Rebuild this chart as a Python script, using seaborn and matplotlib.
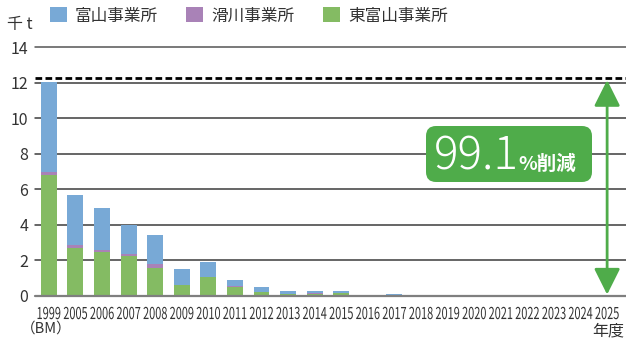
import matplotlib
matplotlib.use("Agg")
import matplotlib.pyplot as plt
import numpy as np
import pandas as pd
import seaborn as sns
from matplotlib.patches import Patch, FancyBboxPatch
from matplotlib.patheffects import AbstractPathEffect
from matplotlib.transforms import Affine2D, IdentityTransform

# PCB waste stock by site (thousand tonnes)
years = ["1999", "2005", "2006", "2007", "2008", "2009", "2010", "2011",
         "2012", "2013", "2014", "2015", "2016", "2017", "2018", "2019",
         "2020", "2021", "2022", "2023", "2024", "2025"]
toyama = [5.05, 2.81, 2.36, 1.61, 1.63, 0.90, 0.88, 0.34, 0.27, 0.15, 0.13,
          0.13, 0.08, 0.14, 0.08, 0.08, 0.08, 0.08, 0.08, 0.08, 0.08, 0.08]
namerikawa = [0.20, 0.15, 0.11, 0.11, 0.23, 0.00, 0.00, 0.07, 0.05, 0.00,
              0.03, 0.00, 0.00, 0.00, 0.00, 0.00, 0.00, 0.00, 0.00, 0.00,
              0.00, 0.00]
higashi_toyama = [6.80, 2.72, 2.49, 2.27, 1.59, 0.62, 1.05, 0.49, 0.20, 0.13,
                  0.12, 0.15, 0.00, 0.00, 0.00, 0.00, 0.00, 0.00, 0.00, 0.00,
                  0.00, 0.00]
series_labels = ["富山事業所", "滑川事業所", "東富山事業所"]
series_colors = ["#78a9d6", "#a982b7", "#84bb63"]
y_ticks = [0, 2, 4, 6, 8, 10, 12, 14]
baseline_level = 12.25
reduction_value = "99.1"
reduction_unit = "%削減"
box_green = "#4fac4a"

sns.set_theme(style="white")
plt.rcParams["font.family"] = ["Noto Sans CJK JP", "DejaVu Sans"]


class GlyphStretch(AbstractPathEffect):
    """Stretch glyph outlines about the text baseline (condensed look)."""

    def __init__(self, sx=1.0, sy=1.0):
        super().__init__()
        self._sx, self._sy = sx, sy

    def draw_path(self, renderer, gc, tpath, affine, rgbFace=None):
        renderer.draw_path(gc, tpath,
                           Affine2D().scale(self._sx, self._sy) + affine,
                           rgbFace)


df = pd.DataFrame({
    "year": years,
    "toyama": toyama,
    "namerikawa": namerikawa,
    "higashi": higashi_toyama,
})
df["lower"] = df["higashi"] + df["namerikawa"]
df["total"] = df["lower"] + df["toyama"]

W, H = 626, 341
fig = plt.figure(figsize=(W / 100, H / 100), dpi=100)
ax = fig.add_axes([35 / W, 1 - 296 / H, 1 - 35 / W, (296 - 47) / H])

# stacked bars: draw cumulative totals back to front
for col, color in zip(["total", "lower", "higashi"], series_colors):
    sns.barplot(data=df, x="year", y=col, color=color, saturation=1,
                width=0.6, linewidth=0, ax=ax, zorder=2, errorbar=None)

ax.set_xlim(-0.52, len(years) - 1 + 0.71)
ax.set_ylim(0, 14)
for s in ax.spines.values():
    s.set_visible(False)
ax.set_xlabel("")
ax.set_ylabel("")

# horizontal grid lines
for v in y_ticks[1:]:
    ax.axhline(v, color="#3c3c3c" if v < 14 else "#555555", lw=1.1,
               zorder=0, clip_on=False)
ax.axhline(0, color="#7f7f7f", lw=1.6, zorder=3, clip_on=False)

# 1999 reference level
ax.axhline(baseline_level, color="black", lw=2, ls=(0, (2.4, 1.2)),
           zorder=4, clip_on=False)

ax.set_yticks(y_ticks)
ax.set_yticklabels([str(v) for v in y_ticks], fontsize=11.5, color="#333333")
ax.tick_params(axis="y", length=0, pad=5)
ax.set_xticks(range(len(years)))
ax.tick_params(axis="x", length=0, pad=16.6)
xlabels = ax.set_xticklabels(years, color="#333333", fontsize=7.9)
for lbl in xlabels:
    lbl.set_verticalalignment("baseline")
    lbl.set_path_effects([GlyphStretch(1.0, 1.5)])

# reduction arrow
ax.annotate("", xy=(len(years) - 1, 12.14), xytext=(len(years) - 1, 0.08),
            arrowprops=dict(arrowstyle="<|-|>,head_length=1.6,head_width=0.8",
                            mutation_scale=10, color=box_green, lw=2,
                            shrinkA=0, shrinkB=0), zorder=5)

# reduction label box (pixel coordinates)
box = FancyBboxPatch((426, H - 182), 166, 56,
                     boxstyle="round,pad=0,rounding_size=10",
                     transform=IdentityTransform(), facecolor=box_green,
                     edgecolor="none", zorder=6)
fig.patches.append(box)
fig.text(434, H - 170, reduction_value, transform=IdentityTransform(),
         fontsize=33, color="white", ha="left", va="baseline",
         fontweight="light", zorder=7)
fig.text(518, H - 170, reduction_unit, transform=IdentityTransform(),
         fontsize=14, color="white", ha="left", va="baseline",
         fontweight="bold", zorder=7)

# axis captions
fig.text(20, H - 24, "千 t", transform=IdentityTransform(), fontsize=11.5,
         color="#333333", ha="center", va="center")
fig.text(46, H - 329, "（BM）", transform=IdentityTransform(), fontsize=10.5,
         color="#333333", ha="center", va="center")
fig.text(608, H - 331, "年度", transform=IdentityTransform(), fontsize=11.5,
         color="#333333", ha="center", va="center")

# legend
handles = [Patch(facecolor=c, edgecolor="none") for c in series_colors]
fig.legend(handles, series_labels, loc="center left",
           bbox_to_anchor=(50 / W, 1 - 16 / H), ncol=3, frameon=False,
           fontsize=12, handlelength=1.0, handleheight=1.0,
           handletextpad=0.5, columnspacing=1.7, borderaxespad=0,
           borderpad=0, labelcolor="#333333")

fig.savefig("out.png", dpi=100)
